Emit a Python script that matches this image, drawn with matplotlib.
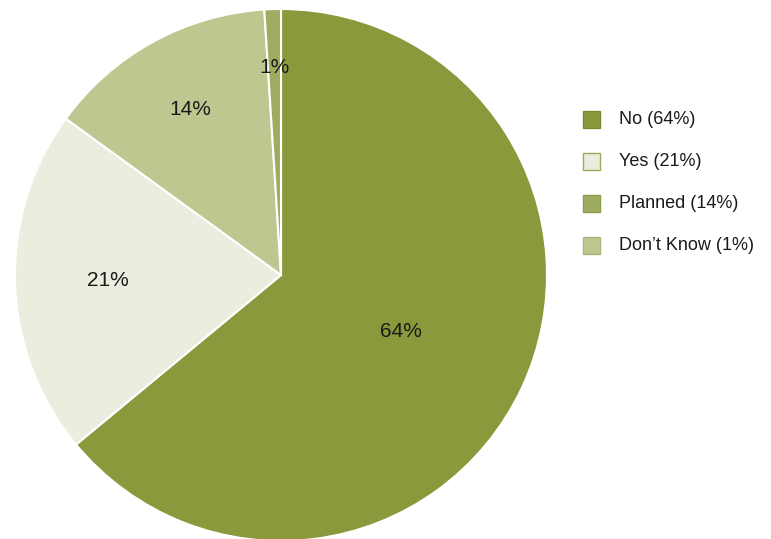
import numpy as np
import matplotlib
matplotlib.use("Agg")
import matplotlib.pyplot as plt
from matplotlib.patches import Rectangle

plt.rcParams['font.family'] = ['Liberation Sans', 'DejaVu Sans']

categories = ["No", "Yes", "Planned", "Don\u2019t Know"]
values = [64, 21, 14, 1]
wedge_colors = ["#8a993c", "#ebeedf", "#bec790", "#9dad5f"]
legend_colors = ["#8a993c", "#ebeedf", "#9dad5f", "#bec790"]
legend_edges = ["#7a8a2c", "#9aab5a", "#8a9b4c", "#a9b67a"]

W, H = 771, 539
fig = plt.figure(figsize=(W / 100, H / 100), dpi=100)

cx, cy, r = 281, 264, 266  # center (pixels from bottom), radius
ax = fig.add_axes([(cx - r) / W, (cy - r) / H, 2 * r / W, 2 * r / H])
wedges, _ = ax.pie(values, colors=wedge_colors, startangle=90, counterclock=False,
                   wedgeprops=dict(edgecolor="white", linewidth=1.5))
ax.set_xlim(-1, 1)
ax.set_ylim(-1, 1)
ax.set_aspect("equal")
ax.set_clip_on(False)
for w in wedges:
    w.set_clip_on(False)

label_radius = [0.50, 0.65, 0.71, 0.78]
for w, v, rf in zip(wedges, values, label_radius):
    mid = np.deg2rad((w.theta1 + w.theta2) / 2)
    ax.text(rf * np.cos(mid), rf * np.sin(mid), f"{v}%", ha="center", va="center",
            fontsize=15, color="#1a1a1a")

# legend
for i, (cat, v, fc, ec) in enumerate(zip(categories, values, legend_colors, legend_edges)):
    yc = H - (119 + 42 * i)
    fig.add_artist(Rectangle((583 / W, (yc - 8.5) / H), 17 / W, 17 / H,
                             transform=fig.transFigure, facecolor=fc, edgecolor=ec, linewidth=1))
    fig.text(619 / W, yc / H, f"{cat} ({v}%)", ha="left", va="center",
             fontsize=13, color="#1a1a1a")

fig.savefig("out.png", dpi=100)
